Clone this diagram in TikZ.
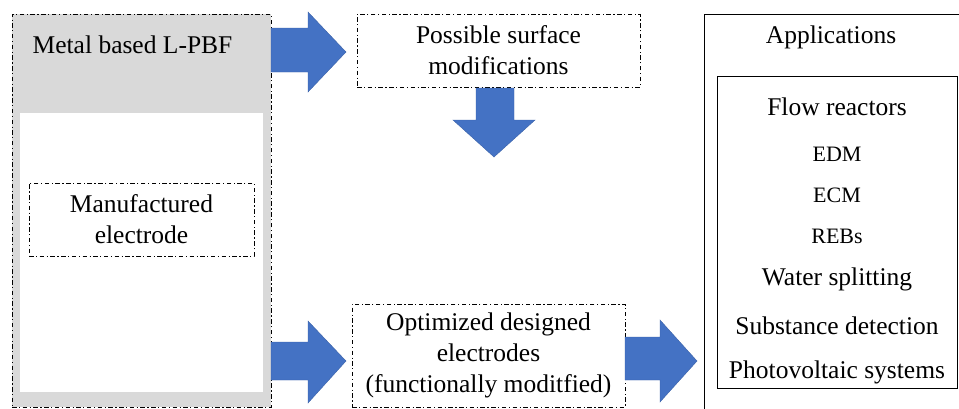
\documentclass[tikz,border=0pt]{standalone}
\usepackage{fontspec}
\setmainfont{Liberation Serif}
\definecolor{arrowblue}{HTML}{4472C4}
\definecolor{panelgray}{HTML}{D9D9D9}
\begin{document}
\begin{tikzpicture}[x=1pt,y=-1pt,
  dashdot/.style={draw=black,line width=0.9pt,dash pattern=on 4.5pt off 2.5pt on 1.2pt off 2.5pt},
  plainbox/.style={draw=black,line width=0.9pt},
  bigtxt/.style={font=\fontsize{25.5}{31}\selectfont,align=center},
  smalltxt/.style={font=\fontsize{22}{24}\selectfont},
  blockarrow/.style={fill=arrowblue,draw=arrowblue!85!black,line width=0.4pt}]
\useasboundingbox (0,0) rectangle (959,408);
\clip (0,0) rectangle (959,408);
% left panel
\node[dashdot,fill=panelgray,minimum width=259pt,minimum height=393pt,inner sep=0pt] (lpbf) at (141.5,210.5) {};
\node[fill=white,minimum width=243pt,minimum height=279pt,inner sep=0pt] (inner) at (141.5,252.5) {};
\node[bigtxt,anchor=center] (lpbftxt) at (132.5,45) {Metal based L-PBF};
\node[dashdot,bigtxt,minimum width=225pt,minimum height=73pt,inner sep=0pt] (manu) at (141.5,219.5) {Manufactured\\electrode};
% middle boxes
\node[dashdot,bigtxt,minimum width=283pt,minimum height=73pt,inner sep=0pt] (poss) at (498.5,50.5) {Possible surface\\modifications};
\node[dashdot,bigtxt,minimum width=273pt,minimum height=103pt,inner sep=0pt] (opt) at (488.5,355.5) {Optimized designed\\electrodes\\(functionally moditfied)};
% applications
\node[plainbox,minimum width=280pt,minimum height=420pt,inner sep=0pt] (apps) at (844,224) {};
\node[bigtxt] (appstxt) at (831,37) {Applications};
\node[plainbox,minimum width=240pt,minimum height=312pt,inner sep=0pt] (list) at (837,232) {};
\node[bigtxt] (a1) at (837,107) {Flow reactors};
\node[smalltxt] (a2) at (837,154) {EDM};
\node[smalltxt] (a3) at (837,195) {ECM};
\node[smalltxt] (a4) at (837,236) {REBs};
\node[bigtxt] (a5) at (837,279) {Water splitting};
\node[bigtxt] (a6) at (837,326) {Substance detection};
\node[bigtxt] (a7) at (837,372) {Photovoltaic systems};
% block arrows
\draw[blockarrow] (271,28) -- (308,28) -- (308,12) -- (346,52) -- (308,92) -- (308,72) -- (271,72) -- cycle;
\draw[blockarrow] (476,88) -- (514,88) -- (514,120) -- (535,120) -- (494,157) -- (453,120) -- (476,120) -- cycle;
\draw[blockarrow] (271,342) -- (308,342) -- (308,321) -- (346,361) -- (308,403) -- (308,380) -- (271,380) -- cycle;
\draw[blockarrow] (625,337) -- (660,337) -- (660,320) -- (697,361) -- (660,402) -- (660,380) -- (625,380) -- cycle;
\end{tikzpicture}
\end{document}
